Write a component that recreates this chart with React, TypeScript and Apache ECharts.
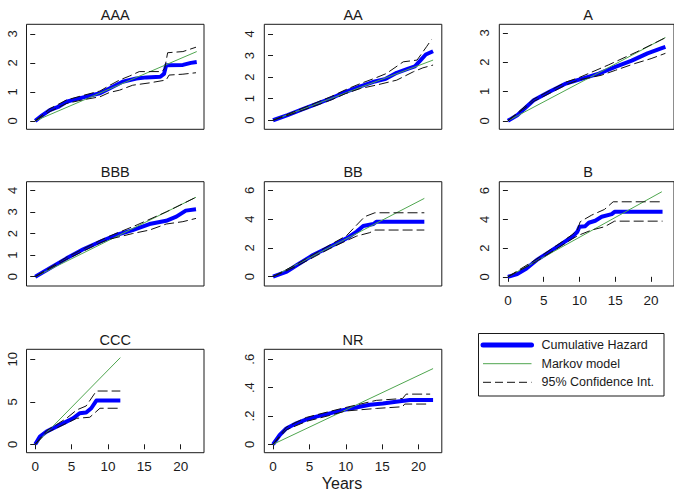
import React, { useEffect, useRef } from 'react';
import * as echarts from 'echarts';

type P = [number, number][];

// ---- data (years, cumulative hazard) ----
const aaaHazard: P = [[0,0],[1,0.2],[2,0.37],[3.15,0.48],[4.3,0.66],[5.5,0.74],[6.6,0.81],[8,0.9],[8.9,0.95],[10.2,1.12],[12,1.35],[13.9,1.46],[15.3,1.5],[17.2,1.52],[17.7,1.62],[18.0,1.92],[20.3,1.93],[21.4,2.0],[22.2,2.03]];
const aaaMarkov: P = [[0,0],[22.2,2.39]];
const aaaUpper: P = [[0,0],[2,0.42],[4.3,0.72],[6.6,0.88],[8.9,1.03],[10.2,1.22],[11.6,1.41],[13,1.55],[14.3,1.7],[17.3,1.7],[17.8,1.8],[18.2,2.35],[20.3,2.39],[22.1,2.54]];
const aaaLower: P = [[0,0],[2,0.32],[4.3,0.6],[6.6,0.73],[8.9,0.83],[10.2,0.98],[11.6,1.06],[13.4,1.23],[15.7,1.31],[18,1.41],[18.4,1.58],[20.3,1.61],[22.1,1.66]];

const aaHazard: P = [[0,0],[2,0.24],[4,0.5],[6,0.76],[8,1.02],[10,1.32],[12,1.57],[14,1.8],[15.5,1.92],[17,2.2],[18.5,2.38],[19.5,2.5],[20.2,2.75],[21,3.05],[22,3.2]];
const aaMarkov: P = [[0,0],[22,2.79]];
const aaUpper: P = [[0,0],[4,0.55],[8,1.1],[10,1.42],[12,1.7],[14,1.95],[15.6,2.17],[17.9,2.71],[19.8,2.79],[21.1,3.41],[21.8,3.75]];
const aaLower: P = [[0,0],[4,0.45],[8,0.94],[10,1.24],[12,1.47],[14.2,1.63],[17,1.86],[19.3,2.25],[20.6,2.43],[22,2.56]];

const aHazard: P = [[0,0],[1.3,0.19],[3.6,0.7],[5.8,0.99],[8.1,1.27],[10.4,1.44],[12.7,1.61],[15,1.84],[17.3,2.05],[19.5,2.3],[21.4,2.47],[22,2.52]];
const aMarkov: P = [[0,0],[22,2.84]];
const aUpper: P = [[0,0],[3.6,0.74],[8.1,1.32],[10,1.48],[14,1.9],[18,2.35],[22,2.83]];
const aLower: P = [[0,0],[3.6,0.66],[8.1,1.22],[10,1.4],[13,1.55],[15,1.72],[17.7,1.95],[20,2.12],[22,2.3]];

const bbbHazard: P = [[0,0],[2,0.39],[4.3,0.85],[6.6,1.27],[8.9,1.62],[11.1,1.93],[13.4,2.16],[15.7,2.44],[18,2.59],[19.4,2.78],[20.7,3.06],[22.1,3.12]];
const bbbMarkov: P = [[0,0],[22.1,3.68]];
const bbbUpper: P = [[0,0],[4.3,0.9],[8.9,1.68],[10,1.85],[14,2.4],[18,3.0],[22.1,3.68]];
const bbbLower: P = [[0,0],[4.3,0.8],[8.9,1.56],[10,1.72],[13.4,2.0],[15.7,2.16],[18,2.44],[20.3,2.55],[22.1,2.7]];

const bbHazard: P = [[0,0],[1.9,0.35],[3.3,0.81],[5.5,1.5],[7.8,2.08],[10.1,2.66],[11.5,3.13],[12.4,3.52],[13.8,3.66],[14.2,3.82],[20.8,3.82]];
const bbMarkov: P = [[0,0],[20.8,5.44]];
const bbUpper: P = [[0,0],[3.3,0.88],[7.8,2.2],[10.1,2.85],[11.5,3.59],[12.6,4.17],[14,4.44],[20.8,4.44]];
const bbLower: P = [[0,0],[3.3,0.74],[7.8,1.95],[10.1,2.5],[11.5,2.82],[13.3,3.06],[14,3.24],[20.8,3.24]];

const bHazard: P = [[0,0],[1.3,0.19],[2.6,0.58],[4,1.16],[5.8,1.74],[7.6,2.33],[9,2.79],[9.7,3.14],[10,3.49],[10.8,3.53],[11.3,3.77],[12.2,3.91],[13.1,4.19],[14.5,4.37],[14.9,4.53],[21.6,4.53]];
const bMarkov: P = [[0,0],[21.5,5.93]];
const bUpper: P = [[0,0],[4,1.24],[7.6,2.45],[9,2.95],[9.7,3.26],[10.1,3.84],[11.7,4.3],[13.5,4.7],[14.7,5.23],[21.6,5.23]];
const bLower: P = [[0,0],[4,1.08],[7.6,2.2],[9,2.65],[9.9,2.9],[11.7,3.26],[13.5,3.49],[14.9,3.88],[21.6,3.88]];

const cccHazard: P = [[0,0],[0.64,0.9],[1.55,1.49],[2.9,2.08],[4.3,2.67],[5.2,3.06],[6.1,3.65],[7,3.73],[7.7,4.24],[8.4,5.14],[11.7,5.14]];
const cccMarkov: P = [[0,0],[11.7,10.2]];
const cccUpper: P = [[0,0],[1.55,1.6],[2.9,2.3],[4.3,3.06],[5.7,4.04],[7,4.51],[8.4,6.27],[11.7,6.27]];
const cccLower: P = [[0,0],[1.55,1.35],[2.9,1.9],[4.3,2.47],[5.7,3.06],[7.5,3.18],[8.9,4.24],[11.7,4.24]];

const nrHazard: P = [[0,0],[0.92,0.066],[1.83,0.112],[3.2,0.148],[4.6,0.176],[5.95,0.195],[7.8,0.218],[9.6,0.241],[11.4,0.26],[13.3,0.279],[15.1,0.288],[16.9,0.3],[18.8,0.312],[22,0.312]];
const nrMarkov: P = [[0,0],[22,0.534]];
const nrUpper: P = [[0,0],[1.83,0.122],[4.6,0.19],[7.8,0.232],[10,0.26],[14.2,0.31],[17.8,0.323],[18.3,0.354],[21.6,0.354]];
const nrLower: P = [[0,0],[1.83,0.102],[4.6,0.162],[7.8,0.204],[10,0.235],[14.2,0.253],[17.8,0.265],[18.1,0.284],[21.6,0.284]];

// ---- tick labels ----
const xTicks = [0, 5, 10, 15, 20];
const aaaTicks = [0, 1, 2, 3];
const aaTicks = [0, 1, 2, 3, 4];
const aTicks = [0, 1, 2, 3];
const bbbTicks = [0, 1, 2, 3, 4];
const bbTicks = [0, 2, 4, 6];
const bTicks = [0, 2, 4, 6];
const cccTicks = [0, 5, 10];
const nrTicks = [0, 0.2, 0.4, 0.6];

const legendLabels = ['Cumulative Hazard', 'Markov model', '95% Confidence Int.'];
const xAxisTitle = 'Years';

const FONT = 'Liberation Sans, Arial, sans-serif';
const INK = '#1a1a1a';
const BLUE = '#0000ff';
const GREEN = '#4fa64f';
const DASH = '#111111';

const colLeft = [26.5, 264.3, 499.3];
const colWidth = 177.5;
const rowTop = [24.3, 181.7, 349.3];
const rowHeight = [105, 104.3, 103.4];

const panels = [
  { name: 'AAA', h: aaaHazard, m: aaaMarkov, u: aaaUpper, l: aaaLower, yMin: -0.29, yMax: 3.33, ticks: aaaTicks, xLab: false, r: 0, c: 0 },
  { name: 'AA', h: aaHazard, m: aaMarkov, u: aaUpper, l: aaLower, yMin: -0.42, yMax: 4.45, ticks: aaTicks, xLab: false, r: 0, c: 1 },
  { name: 'A', h: aHazard, m: aMarkov, u: aUpper, l: aLower, yMin: -0.29, yMax: 3.29, ticks: aTicks, xLab: false, r: 0, c: 2 },
  { name: 'BBB', h: bbbHazard, m: bbbMarkov, u: bbbUpper, l: bbbLower, yMin: -0.43, yMax: 4.4, ticks: bbbTicks, xLab: false, r: 1, c: 0 },
  { name: 'BB', h: bbHazard, m: bbMarkov, u: bbUpper, l: bbLower, yMin: -0.65, yMax: 6.6, ticks: bbTicks, xLab: false, r: 1, c: 1 },
  { name: 'B', h: bHazard, m: bMarkov, u: bUpper, l: bLower, yMin: -0.64, yMax: 6.63, ticks: bTicks, xLab: true, r: 1, c: 2 },
  { name: 'CCC', h: cccHazard, m: cccMarkov, u: cccUpper, l: cccLower, yMin: -0.99, yMax: 11.18, ticks: cccTicks, xLab: true, r: 2, c: 0 },
  { name: 'NR', h: nrHazard, m: nrMarkov, u: nrUpper, l: nrLower, yMin: -0.059, yMax: 0.67, ticks: nrTicks, xLab: true, r: 2, c: 1 },
];

function buildOption() {
  const grid: any[] = [];
  const xAxis: any[] = [];
  const yAxis: any[] = [];
  const series: any[] = [];
  const graphic: any[] = [];

  panels.forEach((p, i) => {
    const left = colLeft[p.c];
    const top = rowTop[p.r];
    const height = rowHeight[p.r];
    grid.push({ left, top, width: colWidth, height, show: true, borderColor: INK, borderWidth: 1, backgroundColor: 'transparent', containLabel: false });
    xAxis.push({
      type: 'value', gridIndex: i, min: -1.2, max: 23.2,
      axisLine: { show: false }, splitLine: { show: false },
      axisTick: { show: p.xLab, customValues: xTicks, length: 5, lineStyle: { color: INK } },
      axisLabel: { show: p.xLab, customValues: xTicks, margin: 7, fontSize: 13.5, color: INK, fontFamily: FONT },
    });
    const isNR = p.name === 'NR';
    yAxis.push({
      type: 'value', gridIndex: i, min: p.yMin, max: p.yMax,
      axisLine: { show: false }, splitLine: { show: false },
      axisTick: { show: true, customValues: p.ticks, length: 5, lineStyle: { color: INK } },
      axisLabel: {
        show: true, customValues: p.ticks, rotate: 90, margin: 8, fontSize: 13, color: INK, fontFamily: FONT,
        formatter: (v: number) => (isNR && v !== 0 ? String(v).replace(/^0/, '') : String(v)),
      },
    });
    const base = { type: 'line', xAxisIndex: i, yAxisIndex: i, symbol: 'none', silent: true, animation: false };
    series.push({ ...base, name: legendLabels[0], data: p.h, z: 2, lineStyle: { color: BLUE, width: 4, join: 'round', cap: 'butt' } });
    series.push({ ...base, name: legendLabels[1], data: p.m, z: 3, lineStyle: { color: GREEN, width: 1 } });
    series.push({ ...base, name: legendLabels[2], data: p.u, z: 4, lineStyle: { color: DASH, width: 1, type: [10, 4] } });
    series.push({ ...base, name: legendLabels[2], data: p.l, z: 4, lineStyle: { color: DASH, width: 1, type: [10, 4] } });

    graphic.push({
      type: 'text', x: left + colWidth / 2, y: top - 9.5,
      style: { text: p.name, fontSize: 14.5, fontFamily: FONT, fill: INK, align: 'center', verticalAlign: 'middle' },
    });
  });

  graphic.push({
    type: 'text', x: 342, y: 483.5,
    style: { text: xAxisTitle, fontSize: 16, fontFamily: FONT, fill: INK, align: 'center', verticalAlign: 'middle' },
  });

  // legend box
  graphic.push({ type: 'rect', shape: { x: 478.5, y: 333.5, width: 185.5, height: 62.5 }, style: { fill: '#fff', stroke: INK, lineWidth: 1 } });
  const rows = [345, 363.7, 382.3];
  const styles = [
    { stroke: BLUE, lineWidth: 5, lineCap: 'round' },
    { stroke: GREEN, lineWidth: 1 },
    { stroke: DASH, lineWidth: 1, lineDash: [8, 4] },
  ];
  rows.forEach((y, k) => {
    graphic.push({ type: 'line', shape: { x1: 483, y1: y, x2: 531.5, y2: y }, style: styles[k] });
    graphic.push({
      type: 'text', x: 541.5, y,
      style: { text: legendLabels[k], fontSize: 12.5, fontFamily: FONT, fill: INK, align: 'left', verticalAlign: 'middle' },
    });
  });

  return { animation: false, backgroundColor: '#ffffff', grid, xAxis, yAxis, series, graphic };
}

export default function App() {
  const ref = useRef<HTMLDivElement>(null);
  useEffect(() => {
    if (!ref.current) return;
    const chart = echarts.init(ref.current, undefined, { renderer: 'svg' });
    chart.setOption(buildOption() as any);
    return () => chart.dispose();
  }, []);
  return <div ref={ref} style={{ position: 'absolute', left: 0, top: 0, width: 674, height: 491 }} />;
}
